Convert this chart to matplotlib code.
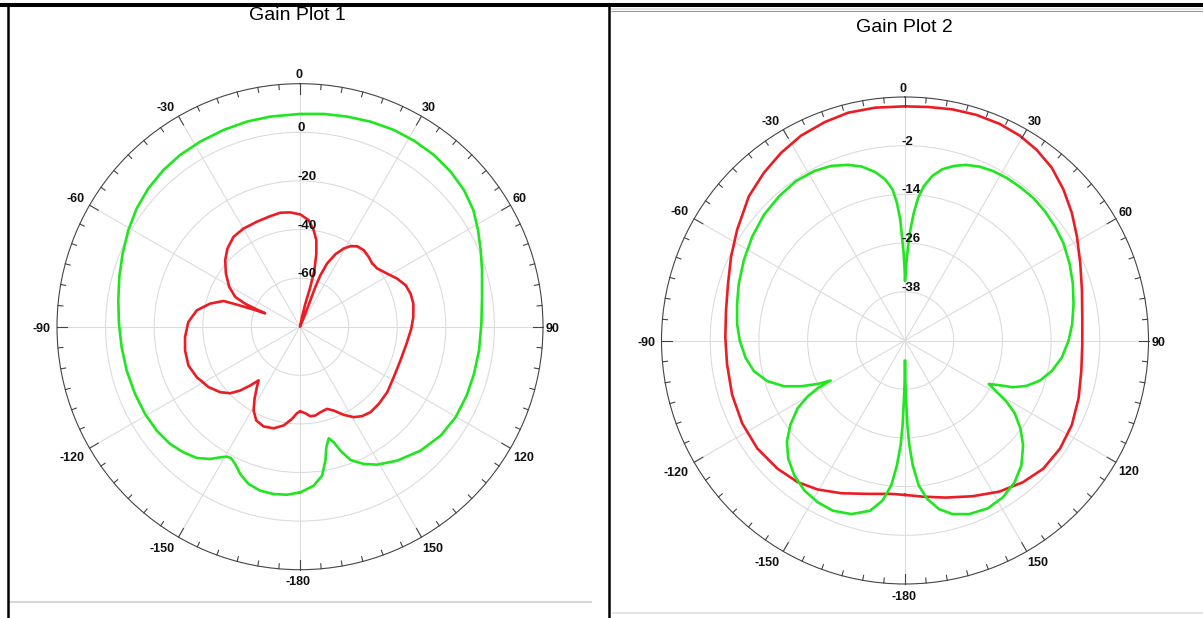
import numpy as np
import matplotlib.pyplot as plt
import matplotlib.transforms as mtransforms
from matplotlib.lines import Line2D

plt.rcParams['font.family'] = ['Liberation Sans', 'DejaVu Sans']

## ---------------------------
## Daten (Winkel in Grad, Gewinn in dB)
## ---------------------------

angle_ticks = [0, 30, 60, 90, 120, 150, 180, 210, 240, 270, 300, 330]
angle_labels = ['0', '30', '60', '90', '120', '150', '-180', '-150', '-120', '-90', '-60', '-30']

p1_title = 'Gain Plot 1'
p1_rings = [-60, -40, -20, 0]

p1_green_deg = [-180, -175.57, -171.04, -166.38, -161.89, -157.91, -154.73, -152.22, -150.62, -148.57,
                -145.81, -141.82, -137.13, -132.06, -125.94, -119.36, -112.14, -104.17, -96.52, -89.05,
                -81.74, -74.6, -67.59, -60.65, -54.1, -47.64, -41.09, -34.93, -28.36, -21.25,
                -14.52, -8.05, 0, 6.36, 12.64, 18.96, 25.5, 31.47, 37.96, 44.18,
                50.2, 56.08, 61.53, 67.06, 72.77, 80.73, 89.05, 97.55, 105.14, 112.43,
                120.18, 127.75, 135.79, 144.03, 150.79, 155.07, 159.27, 161.94, 163.73, 165.56,
                167.66, 169.27, 171.58, 175.08, 179.88, 180]
p1_green_db = [-11.8, -10.65, -10.28, -10.56, -11.89, -14.58, -17.52, -18.94, -18.64, -17.0,
               -14.2, -11.28, -9.48, -7.97, -7.16, -6.82, -6.69, -6.42, -6.12, -5.48,
               -4.44, -2.87, -1.04, 1.06, 2.98, 4.46, 5.54, 6.19, 6.53, 6.86,
               7.19, 7.33, 7.56, 8.1, 8.61, 9.24, 9.71, 9.78, 9.61, 8.95,
               7.84, 5.97, 3.34, 0.76, -1.57, -4.09, -5.35, -5.68, -5.81, -5.8,
               -5.9, -6.8, -8.85, -11.89, -14.95, -17.7, -21.36, -26.36, -30.46, -32.59,
               -29.21, -23.9, -18.02, -14.32, -11.82, -11.8]

p1_red_deg = [-180, -178.01, -175.03, -170.6, -165.43, -159.97, -155.01, -151.02, -147.8, -144.52,
              -142.39, -139.75, -136.86, -133.6, -129.36, -123.45, -116.04, -109.15, -101.66, -95.15,
              -87.6, -80.99, -75.61, -71.4, -70.6, -69.8, -69.0, -68.3, -67.3, -65.35,
              -60.69, -54.39, -48.38, -42.84, -36.49, -29.89, -22.33, -15.05, -9.82, -4.85,
              0.17, 4.66, 8.07, 10.71, 12.61, 14.28, 14.6, 13.06, 11.7, 17,
              22.31, 21.42, 21.13, 21.61, 23.2, 26.04, 29.24, 32.07, 35.36, 39.83,
              44.59, 48.81, 53.0, 58.65, 63.67, 68.57, 73.35, 78.5, 85.11, 91.03,
              99.08, 108.55, 118.25, 126.9, 134.38, 140.5, 145.24, 149.29, 153.6, 158.08,
              161.77, 166.6, 170.19, 173.4, 176.46, 179.77, 180]
p1_red_db = [-45.1, -44.4, -41.9, -38.8, -36.8, -36.3, -37.4, -40.6, -44.9, -49.4,
             -52.1, -48.3, -44.0, -40.3, -37.5, -34.9, -32.7, -31.4, -31.7, -32.5,
             -34.0, -37.0, -41.8, -46.8, -53.5, -59.4, -64.6, -60.9, -55.6, -50.7,
             -46.6, -42.5, -38.8, -36.1, -34.0, -33.4, -33.3, -32.9, -32.4, -32.8,
             -33.8, -36.0, -39.9, -43.8, -49.2, -56.0, -63.1, -70.3, -75.9, -80.0,
             -74.2, -68.3, -62.5, -57.2, -51.7, -46.8, -43.1, -40.9, -39.4, -39.0,
             -39.7, -40.5, -40.2, -38.0, -35.4, -33.3, -32.5, -32.4, -33.2, -34.2,
             -35.6, -36.4, -36.2, -35.1, -34.6, -34.4, -35.2, -36.7, -39.5, -42.8,
             -44.4, -43.8, -42.9, -42.9, -44.3, -45.2, -45.1]

p2_title = 'Gain Plot 2'
p2_rings = [-38, -26, -14, -2]

p2_red_deg = [-180, -175.11, -166.56, -157.4, -149.68, -142.85, -135.15, -126.17, -116.94, -107.39,
              -97.64, -89.03, -80.5, -72.19, -64.28, -56.6, -47.24, -40.02, -33.52, -26.9,
              -20.21, -14.02, -7.33, 0, 5.84, 11.6, 17.46, 23.57, 29.25, 34.59,
              40.31, 46.36, 52.61, 58.84, 66.27, 74.18, 82.54, 91.2, 99.85, 108.34,
              116.84, 124.85, 132.83, 140.18, 147.96, 156.53, 165.47, 173.73, 180]
p2_red_db = [-11.95, -12.06, -11.14, -9.23, -7.46, -6.21, -5.45, -4.92, -4.99, -5.35,
             -5.76, -5.72, -5.28, -4.2, -2.43, -0.45, 2.38, 4.02, 5.39, 6.61,
             7.33, 7.85, 7.84, 7.7, 7.83, 8.14, 8.31, 8.25, 7.86, 7.09,
             5.87, 3.94, 1.75, -0.49, -2.82, -4.68, -5.94, -6.3, -5.91, -4.93,
             -3.92, -3.43, -3.54, -4.56, -6.09, -8.16, -10.01, -11.3, -11.95]

p2_green_deg = [-180, -179.5, -179.0, -178.4, -177.61, -176.3, -174.57, -171.99, -168.39, -162.87,
                -157.07, -151.7, -146.16, -140.63, -135.33, -130.61, -126.36, -122.21, -119.87, -118.6,
                -118.3, -116.48, -113.75, -110.75, -106.48, -101.46, -96.14, -90.12, -84.39, -77.68,
                -71.12, -63.48, -55.76, -48.25, -41.08, -34.36, -28.09, -22.88, -17.94, -14.01,
                -10.07, -7.02, -4.71, -3.36, -2.23, -1.67, -0.88, -0.27, 0, 1.0,
                1.85, 2.78, 3.92, 5.26, 6.96, 9.41, 12.3, 15.71, 19.12, 23.14,
                27.38, 31.88, 36.73, 41.94, 47.29, 52.77, 58.47, 64.9, 71.29, 77.73,
                84.37, 90.12, 96.25, 101.79, 106.53, 110.5, 113.41, 115.33, 117.39, 119.13,
                121.02, 123.53, 127.27, 131.54, 136.99, 142.25, 148.02, 153.76, 159.69, 164.72,
                168.6, 172.02, 174.57, 176.45, 177.61, 178.4, 179.0, 179.5, 180]
p2_green_db = [-44.94, -39.97, -35.82, -29.18, -24.19, -19.18, -14.11, -10.15, -7.17, -5.24,
               -4.45, -4.71, -5.49, -7.0, -9.08, -11.67, -14.9, -18.75, -22.37, -25.63,
               -29.19, -26.0, -22.01, -18.17, -14.64, -12.02, -10.48, -9.3, -8.43, -7.65,
               -6.72, -5.62, -4.47, -3.44, -2.82, -2.41, -2.64, -3.3, -4.51, -5.82,
               -7.82, -9.99, -12.65, -16.04, -20.21, -24.38, -28.53, -32.67, -35.33, -31.02,
               -26.86, -22.69, -18.51, -14.7, -11.67, -8.91, -6.81, -5.31, -4.2, -3.39,
               -2.95, -2.75, -2.73, -2.75, -3.07, -3.56, -4.19, -5.23, -6.33, -7.5,
               -8.6, -9.71, -11.14, -13.08, -15.32, -18.05, -21.0, -24.23, -26.75, -24.28,
               -20.88, -17.58, -14.27, -11.12, -7.95, -5.86, -4.45, -3.88, -4.39, -5.66,
               -7.63, -10.57, -14.11, -19.19, -24.19, -29.18, -35.82, -39.97, -44.94]

GREEN = '#1fe61f'
RED = '#ec1c24'

## ---------------------------
## Figur
## ---------------------------

W, H = 1203, 618
fig = plt.figure(figsize=(W / 100, H / 100), dpi=100)


def px_box(cx, cy, r):
    return [(cx - r) / W, (H - cy - r) / H, 2 * r / W, 2 * r / H]


def setup_polar(ax, rmin, rmax, rings, radius_px):
    ax.set_theta_zero_location('N')
    ax.set_theta_direction(-1)
    ax.set_ylim(rmin, rmax)
    ax.set_xticks(np.deg2rad(angle_ticks))
    ax.set_xticklabels([])
    ax.tick_params(axis='x', length=0)
    ax.set_yticks(rings)
    ax.set_yticklabels([])
    ax.grid(True, color='#dcdcdc', linewidth=0.8)
    ax.spines['polar'].set_color('#444444')
    ax.spines['polar'].set_linewidth(0.8)

    # Teilstriche am Aussenkreis (alle 5 Grad, lang alle 30 Grad)
    per_px = (rmax - rmin) / radius_px
    for a in range(0, 360, 5):
        length = 10 if a % 30 == 0 else 5
        ax.plot([np.deg2rad(a)] * 2, [rmax - length * per_px, rmax],
                color='#444444', lw=0.8, clip_on=False, zorder=3)
    ax.set_ylim(rmin, rmax)

    # Winkelbeschriftung aussen
    for a, lab in zip(angle_ticks, angle_labels):
        s, c = np.sin(np.deg2rad(a)), np.cos(np.deg2rad(a))
        ha = 'center' if abs(s) < 0.1 else ('left' if s > 0 else 'right')
        va = 'center' if abs(c) < 0.1 else ('bottom' if c > 0 else 'top')
        tr = mtransforms.offset_copy(ax.transData, fig=fig, x=4.5 * s - 1.5,
                                     y=4.5 * c - 2, units='dots')
        ax.text(np.deg2rad(a), rmax, lab, transform=tr, ha=ha, va=va,
                fontsize=9, fontweight='bold', color='#111111', clip_on=False)

    # Pegelbeschriftung an der 0-Grad-Speiche
    off = mtransforms.offset_copy(ax.transData, fig=fig, x=-3, y=4, units='dots')
    for v in rings:
        ax.text(0, v, str(v), transform=off, ha='left', va='center',
                fontsize=9.5, fontweight='bold', color='#111111')


# Plot 1
ax1 = fig.add_axes(px_box(300, 326.7, 243), projection='polar')
setup_polar(ax1, -80, 20, p1_rings, 243)
ax1.plot(np.deg2rad(p1_green_deg), p1_green_db, color=GREEN, lw=1.9)
ax1.plot(np.deg2rad(p1_red_deg), p1_red_db, color=RED, lw=1.9)
fig.text(297 / W, 1 - 15.5 / H, p1_title, ha='center', va='center', fontsize=14)

# Plot 2
ax2 = fig.add_axes(px_box(905, 340.5, 243.5), projection='polar')
setup_polar(ax2, -50, 10, p2_rings, 243.5)
ax2.plot(np.deg2rad(p2_red_deg), p2_red_db, color=RED, lw=1.9)
ax2.plot(np.deg2rad(p2_green_deg), p2_green_db, color=GREEN, lw=1.9)
fig.text(904 / W, 1 - 28 / H, p2_title, ha='center', va='center', fontsize=14)


## ---------------------------
## Rahmen des Screenshots
## ---------------------------

def px_line(x0, y0, x1, y1, color, lw):
    fig.add_artist(Line2D([x0 / W, x1 / W], [1 - y0 / H, 1 - y1 / H],
                          transform=fig.transFigure, color=color, lw=lw,
                          solid_capstyle='butt'))


px_line(0, 5, W, 5, 'black', 2.9)
px_line(8, 5, 8, H, 'black', 1.8)
px_line(609, 5, 609, H, 'black', 1.8)
px_line(611, 9, W, 9, '#e2e2e2', 1.5)
px_line(611, 11, W, 11, '#9a9a9a', 0.8)
px_line(10, 602, 592, 602, '#cfcfcf', 1.2)
px_line(612, 613, W, 613, '#dedede', 1.2)

fig.savefig('out.png', dpi=100)
